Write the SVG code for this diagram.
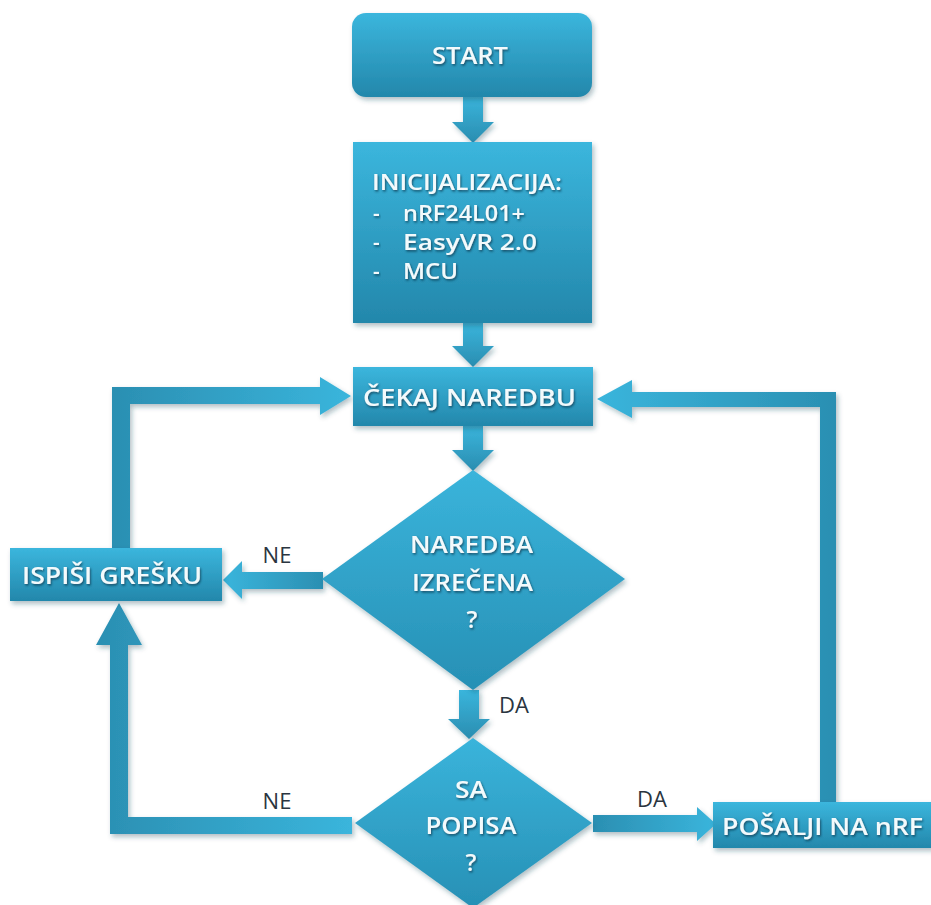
<svg xmlns="http://www.w3.org/2000/svg" width="931" height="905" viewBox="0 0 931 905">
<defs>
<linearGradient id="gBox" x1="0" y1="0" x2="0" y2="1">
<stop offset="0" stop-color="#3bb6dd"/>
<stop offset="1" stop-color="#2387ab"/>
</linearGradient>
<linearGradient id="gDia" x1="0" y1="0" x2="0" y2="1">
<stop offset="0" stop-color="#3ab4db"/>
<stop offset="1" stop-color="#2790b5"/>
</linearGradient>
<linearGradient id="gArrH" x1="0" y1="0" x2="1" y2="0">
<stop offset="0" stop-color="#2b8fb2"/>
<stop offset="1" stop-color="#3ab5dc"/>
</linearGradient>
<linearGradient id="gArrHr" x1="1" y1="0" x2="0" y2="0">
<stop offset="0" stop-color="#2b8fb2"/>
<stop offset="1" stop-color="#3ab5dc"/>
</linearGradient>
<linearGradient id="gArrV" x1="0" y1="0" x2="0" y2="1">
<stop offset="0" stop-color="#3ab5dc"/>
<stop offset="1" stop-color="#2a8db0"/>
</linearGradient>
<filter id="sh" x="-10%" y="-10%" width="130%" height="140%">
<feDropShadow dx="2" dy="3" stdDeviation="2.5" flood-color="#1a4a5c" flood-opacity="0.35"/>
</filter>
<filter id="tsh" x="-10%" y="-30%" width="120%" height="160%">
<feDropShadow dx="1" dy="1.5" stdDeviation="1" flood-color="#0b3346" flood-opacity="0.75"/>
</filter>
</defs>
<style>
.node{filter:url(#sh)}
.t{font-family:"Open Sans","Liberation Sans",sans-serif;font-weight:600;font-size:24px;fill:#f3fafc;filter:url(#tsh)}
.s{font-size:21px}
.lbl{font-family:"Open Sans","Liberation Sans",sans-serif;font-size:22px;fill:#2a3540;text-anchor:middle}
.arr{filter:url(#sh)}
</style>
<rect width="931" height="905" fill="#ffffff"/>

<g id="connectors">
<polygon class="arr" fill="url(#gArrV)" points="463,96 483,96 483,122 494,122 473,143 452,122 463,122"/>
<polygon class="arr" fill="url(#gArrV)" points="463,323 483,323 483,346 494,346 473,367 452,346 463,346"/>
<polygon class="arr" fill="url(#gArrV)" points="463,426 483,426 483,450 494,450 473,471 452,450 463,450"/>
<polygon class="arr" fill="url(#gArrV)" points="459,690 479,690 479,719 490,719 469,739 448,719 459,719"/>
<polygon class="arr" fill="url(#gArrH)" points="112,548 112,387 320,387 320,377 351,396 320,415 320,404 130,404 130,548"/>
<polygon class="arr" fill="url(#gArrHr)" points="836,802 836,392 632,392 632,380 597,399 632,418 632,407 820,407 820,802"/>
<polygon class="arr" fill="url(#gArrHr)" points="323,572 242,572 242,561 223,580 242,599 242,589 323,589"/>
<polygon class="arr" fill="url(#gArrH)" points="352,817 128,817 128,645 142,645 119,603 96,645 110,645 110,834 352,834"/>
<polygon class="arr" fill="url(#gArrH)" points="593,815 697,815 697,807 716,824 697,841 697,832 593,832"/>
<text class="lbl" x="277" y="563">NE</text>
<text class="lbl" x="514" y="713">DA</text>
<text class="lbl" x="277" y="809">NE</text>
<text class="lbl" x="652" y="807">DA</text>
</g>

<g id="start" class="node">
<rect x="352" y="13" width="240" height="84" rx="14" fill="url(#gBox)"/>
<text class="t" x="432" y="64" textLength="76" lengthAdjust="spacingAndGlyphs">START</text>
</g>

<g id="init" class="node">
<rect x="353" y="142" width="239" height="181" fill="url(#gBox)"/>
<text class="t s" x="372" y="190" textLength="190" lengthAdjust="spacingAndGlyphs">INICIJALIZACIJA:</text>
<text class="t s" x="373" y="221">-</text>
<text class="t s" x="403" y="221" textLength="122" lengthAdjust="spacingAndGlyphs">nRF24L01+</text>
<text class="t s" x="373" y="250">-</text>
<text class="t s" x="403" y="250" textLength="134" lengthAdjust="spacingAndGlyphs">EasyVR 2.0</text>
<text class="t s" x="373" y="279">-</text>
<text class="t s" x="403" y="279" textLength="55" lengthAdjust="spacingAndGlyphs">MCU</text>
</g>

<g id="cekaj" class="node">
<rect x="353" y="367" width="240" height="59" fill="url(#gBox)"/>
<text class="t" x="363" y="406" textLength="213" lengthAdjust="spacingAndGlyphs">ČEKAJ NAREDBU</text>
</g>

<g id="izrecena" class="node">
<polygon points="473,470 625,579 473,690 322,579" fill="url(#gDia)"/>
<text class="t" x="410" y="553" textLength="123" lengthAdjust="spacingAndGlyphs">NAREDBA</text>
<text class="t" x="412" y="591" textLength="121" lengthAdjust="spacingAndGlyphs">IZREČENA</text>
<text class="t" x="472" y="628" text-anchor="middle">?</text>
</g>

<g id="ispisi" class="node">
<rect x="10" y="548" width="212" height="53" fill="url(#gBox)"/>
<text class="t" x="22" y="584" textLength="180" lengthAdjust="spacingAndGlyphs">ISPIŠI GREŠKU</text>
</g>

<g id="popisa" class="node">
<polygon points="473,738 592,823 473,908 355,823" fill="url(#gDia)"/>
<text class="t" x="471" y="798" text-anchor="middle" textLength="32" lengthAdjust="spacingAndGlyphs">SA</text>
<text class="t" x="471" y="834" text-anchor="middle" textLength="91" lengthAdjust="spacingAndGlyphs">POPISA</text>
<text class="t" x="471" y="871" text-anchor="middle">?</text>
</g>

<g id="posalji" class="node">
<rect x="713" y="802" width="220" height="46" fill="url(#gBox)"/>
<text class="t" x="722" y="835" textLength="201" lengthAdjust="spacingAndGlyphs">POŠALJI NA nRF</text>
</g>
</svg>
